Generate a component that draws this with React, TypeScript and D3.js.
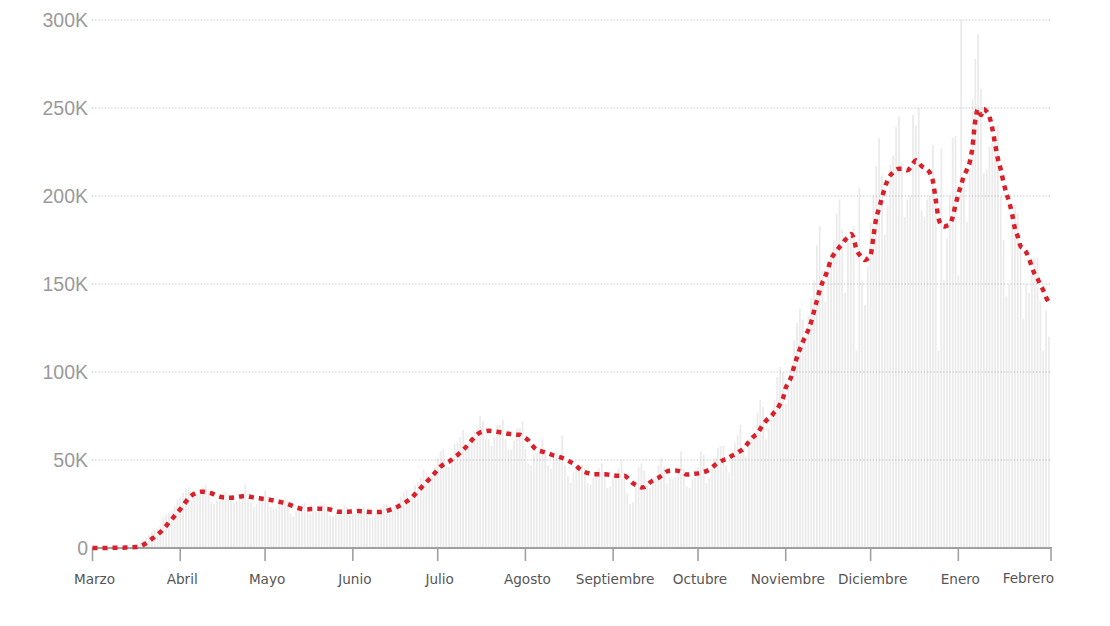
import React from "react";
import * as d3 from "d3";

// Daily new cases (thousands), one value per day from 1 Mar 2020 to 2 Feb 2021
const dailyK: number[] = [
  0.01,0.02,0.02,0.03,0.05,0.08,0.1,
  0.1,0.15,0.25,0.35,0.45,0.6,0.75,
  1.0,1.4,2.0,3.2,4.8,6.0,7.5,
  9.0,10.5,11.0,12.5,17.5,19.0,20.0,
  21,24,27.5,28.5,31.5,34,34.5,
  27,29,31,32.5,34.5,35.5,31.5,
  26,25,27,29.5,31,32,30.5,
  27,25.5,26.5,29,31,36,28,
  25.5,23.5,25,27.5,29.5,32.5,29,
  23.5,22,22.5,25,27,28,27,
  19.5,18,21,21.5,25,25.5,23.5,
  19.5,20.5,21,21.5,25.5,25,22.5,
  18.5,18,19,19,21.5,24.5,23.5,
  19,20,19.5,20.5,21.5,23.5,21,
  17,18,19.5,21.5,23,24.5,25,
  19.5,21,23.5,26.5,29,31.5,33,
  28,31,35.5,37.5,40,44.5,42.5,
  41,41,46,51,55,56,46,
  46,49,59,60,63,67,58,
  59,61,66,68,75,72,62,
  62,58,63,70,70,73,62,
  56,56,61,68,68,72,56.5,
  48,47,53,54,57,62,56,
  47,45,52,54,52,64,47,
  41,37,43,46,45,47,45.5,
  37,36,40,44,45.5,48,42.8,
  34,35,41,40,45,50,42.5,
  31,25,26,35,46,48,44,
  36,34,40,40,47,51,46,
  37,40,39,40,45,55,45,
  35,34,39,40,46,55,53,
  37,40,45,51,57,58,58,
  47,43,52,60,64,70,56,
  52,62,63,65,77,84,80,
  62,68,77,84,97,103,100,
  82,93,102,118,128,136,130,
  118,132,142,152,172,183,158,
  140,160,165,175,190,198,181,
  145,174,176,183,112,205,152,
  138,160,185,200,217,233,212,
  178,195,218,223,239,245,219,
  188,198,200,246,240,250,192,
  188,198,200,229,195,112,227,
  152,176,200,233,234,155,300,
  210,185,215,255,278,292,261,
  213,215,228,230,234,240,200,
  175,143,150,185,195,190,172,
  130,150,145,155,165,165,140,
  112,135,120,
];

// 7-day average (thousands), one value per day
const avgK: number[] = [
  0,0,0,0,0,0,0.1,0.1,0.1,0.1,0.2,0.2,0.3,0.3,0.4,0.5,
  0.6,1.0,1.8,2.8,4.0,5.2,6.3,7.6,9.0,10.6,12.5,14.5,16.3,18.2,
  20.1,22.0,24.0,26.3,28.3,29.8,30.8,31.5,31.9,32.0,31.8,31.5,31.1,30.5,29.8,
  29.2,28.8,28.7,28.6,28.6,28.7,28.9,29.2,29.4,29.5,29.3,29.0,28.7,28.5,28.3,
  28.0,27.8,27.5,27.3,27.0,26.7,26.3,25.9,25.5,25.0,24.4,23.7,23.1,22.6,22.2,
  22.0,22.0,22.1,22.2,22.3,22.3,22.3,22.2,22.2,21.9,21.4,20.9,20.6,20.6,20.6,
  20.6,20.7,20.8,20.9,21.0,20.9,20.8,20.6,20.5,20.5,20.5,20.5,20.5,20.7,21.1,
  21.6,22.1,22.8,23.6,24.4,25.3,26.4,27.6,28.9,30.6,32.3,34.0,35.7,37.4,39.1,
  40.8,42.6,44.4,46.2,47.4,48.4,49.1,50.3,51.6,52.8,54.3,55.9,57.4,59.3,61.2,
  63.0,64.6,65.6,66.1,66.4,66.6,66.5,66.3,66.0,65.8,65.5,65.2,64.9,64.8,64.6,
  64.4,64.3,63.5,62.5,61.2,59.0,57.2,55.8,55.2,54.8,54.3,53.8,53.2,52.6,52.3,
  51.8,51.2,50.6,49.8,48.8,47.9,46.6,45.1,44.0,43.2,42.6,42.1,41.9,41.9,41.9,
  41.9,41.9,41.8,41.5,41.2,41.1,41.1,41.1,41.1,40.0,38.3,36.8,35.8,35.0,34.4,
  34.6,35.8,37.2,38.3,39.1,39.9,41.1,42.4,43.5,43.9,44.0,44.0,43.8,43.4,42.6,
  41.7,41.8,42.0,42.2,42.4,42.8,43.2,43.7,44.6,45.8,47.2,48.3,49.2,50.0,50.5,
  51.4,52.4,53.2,54.2,55.2,56.2,58.2,60.3,62.3,63.8,65.0,67.6,70.2,72.2,73.8,
  75.0,77.2,79.0,81.8,84.8,91.0,94.0,97.5,103.5,108.5,113.0,117.0,120.5,124.0,128.5,
  134.5,140.5,146.5,151.0,154.5,159.0,164.0,166.8,169.0,171.0,172.8,175.0,176.6,178.4,176.0,
  169.5,166.8,165.0,163.6,164.5,166.5,177.0,187.5,193.0,199.0,204.5,209.0,211.8,213.5,214.8,
  215.5,215.5,215.0,214.6,216.0,218.5,220.3,219.0,217.0,216.0,215.0,213.0,208.5,198.0,187.5,
  183.5,182.6,183.2,184.0,188.0,195.0,201.0,206.5,211.5,214.8,219.0,228.0,243.0,249.5,246.0,
  249.5,248.0,245.0,238.5,229.5,221.0,215.0,207.5,201.5,196.5,189.8,181.5,177.0,171.5,170.0,
  168.0,164.5,159.5,155.5,153.0,149.5,146.5,142.5,139.5,
];

const monthLabels = [
  "Marzo","Abril","Mayo","Junio","Julio","Agosto","Septiembre",
  "Octubre","Noviembre","Diciembre","Enero","Febrero",
];
const yTicks = [0, 50, 100, 150, 200, 250, 300];
const yTickLabels = ["0", "50K", "100K", "150K", "200K", "250K", "300K"];

const W = 1110;
const H = 626;
const startDate = new Date(Date.UTC(2020, 2, 1));
const endDate = new Date(Date.UTC(2021, 1, 2, 18));

const dayDate = (i: number) => new Date(Date.UTC(2020, 2, 1 + i));

export default function App() {
  const x = d3.scaleUtc().domain([startDate, endDate]).range([92.5, 1051]);
  const y = d3.scaleLinear().domain([0, 300]).range([548, 20]);

  const tickDates = monthLabels.map((_, i) =>
    i < monthLabels.length - 1 ? new Date(Date.UTC(2020, 2 + i, 1)) : endDate
  );

  const n = Math.min(avgK.length, dailyK.length);
  const line = d3
    .line<number>()
    .x((_, i) => x(dayDate(i)))
    .y((v) => y(v))
    .curve(d3.curveMonotoneX);

  const barW = 1.8;

  return (
    <svg
      width={W}
      height={H}
      style={{ position: "absolute", left: 0, top: 0, background: "#fff" }}
    >
      <g>
        {dailyK.map((v, i) => (
          <rect
            key={i}
            x={x(dayDate(i)) - barW / 2}
            y={y(v)}
            width={barW}
            height={Math.max(0, y(0) - y(v))}
            fill="#ebebeb"
          />
        ))}
      </g>
      <g>
        {yTicks.slice(1).map((t) => (
          <line
            key={t}
            x1={92}
            x2={1052}
            y1={y(t)}
            y2={y(t)}
            stroke="#b8b8b8"
            strokeWidth={1}
            strokeDasharray="1.2,2"
          />
        ))}
      </g>
      <g fontFamily="'Liberation Sans', Arial, sans-serif" fontSize={19.5} fill="#9a9a9a">
        {yTicks.map((t, i) => (
          <text key={t} x={88} y={y(t)} dy="0.36em" textAnchor="end">
            {yTickLabels[i]}
          </text>
        ))}
      </g>
      <line x1={92} x2={1052} y1={y(0)} y2={y(0)} stroke="#a0a0a0" strokeWidth={2} />
      <g>
        {tickDates.map((d, i) => (
          <line
            key={i}
            x1={x(d)}
            x2={x(d)}
            y1={y(0)}
            y2={y(0) + 13}
            stroke="#a0a0a0"
            strokeWidth={1.6}
          />
        ))}
      </g>
      <g fontFamily="'DejaVu Sans', Verdana, sans-serif" fontSize={13.6} fill="#555">
        {tickDates.map((d, i) => {
          const last = i === tickDates.length - 1;
          return (
            <text
              key={i}
              x={last ? x(d) + 3 : x(d) + 2}
              y={last ? 583 : 584}
              textAnchor={last ? "end" : "middle"}
            >
              {monthLabels[i]}
            </text>
          );
        })}
      </g>
      <path
        d={line(avgK.slice(0, n)) || ""}
        fill="none"
        stroke="#d9202b"
        strokeWidth={4.5}
        strokeDasharray="5,5"
      />
    </svg>
  );
}
